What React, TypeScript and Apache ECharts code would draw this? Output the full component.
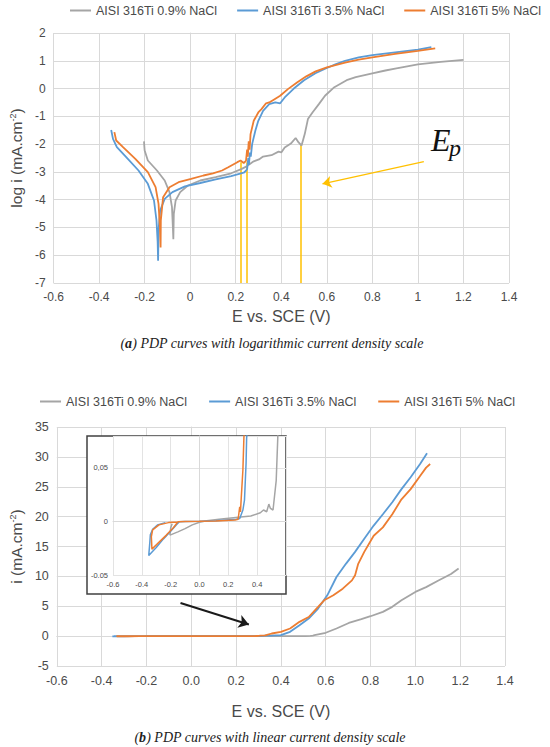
import React, { useEffect, useRef } from 'react';
import * as echarts from 'echarts';

const SERIES_NAMES = ['AISI 316Ti 0.9% NaCl', 'AISI 316Ti 3.5% NaCl', 'AISI 316Ti 5% NaCl'];
const COLORS = ['#A5A5A5', '#5B9BD5', '#ED7D31'];

// (a) log i vs E
const logGray = [
  [-0.203, -1.9], [-0.2, -2.23], [-0.186, -2.59], [-0.146, -2.95], [-0.112, -3.31], [-0.091, -3.73],
  [-0.08, -4.27], [-0.076, -5.0], [-0.074, -5.42], [-0.072, -4.51], [-0.064, -4.03], [-0.044, -3.73],
  [-0.01, -3.49], [0.044, -3.31], [0.112, -3.19], [0.18, -3.05], [0.224, -2.9], [0.248, -2.8],
  [0.279, -2.62], [0.302, -2.55], [0.32, -2.45], [0.357, -2.4], [0.388, -2.27], [0.4, -2.3],
  [0.415, -2.12], [0.442, -1.98], [0.463, -1.78], [0.476, -1.94], [0.489, -2.05], [0.503, -1.64],
  [0.517, -1.1], [0.537, -0.86], [0.565, -0.56], [0.592, -0.26], [0.633, 0.05], [0.687, 0.3],
  [0.727, 0.41], [0.8, 0.55], [0.857, 0.65], [0.9, 0.72], [1.0, 0.87], [1.1, 0.96], [1.2, 1.03],
];
const logBlue = [
  [-0.347, -1.49], [-0.339, -1.81], [-0.322, -2.11], [-0.281, -2.47], [-0.227, -2.95], [-0.186, -3.43],
  [-0.159, -4.03], [-0.148, -4.75], [-0.143, -5.5], [-0.141, -6.2], [-0.139, -5.1], [-0.132, -4.39],
  [-0.112, -3.97], [-0.078, -3.73], [-0.023, -3.52], [0.044, -3.4], [0.112, -3.27], [0.18, -3.15],
  [0.235, -3.03], [0.245, -2.96], [0.25, -2.9], [0.255, -2.5], [0.258, -2.75], [0.262, -2.3],
  [0.266, -2.45], [0.272, -2.0], [0.286, -1.52], [0.299, -1.16], [0.32, -0.8], [0.347, -0.56],
  [0.374, -0.5], [0.395, -0.53], [0.415, -0.32], [0.455, 0.0], [0.5, 0.3], [0.55, 0.55], [0.6, 0.74],
  [0.64, 0.88], [0.68, 1.0], [0.74, 1.12], [0.8, 1.2], [0.9, 1.3], [1.0, 1.4], [1.059, 1.49],
];
const logOrange = [
  [-0.333, -1.57], [-0.325, -1.87], [-0.295, -2.11], [-0.241, -2.53], [-0.186, -3.01], [-0.152, -3.55],
  [-0.139, -4.15], [-0.133, -5.0], [-0.13, -5.72], [-0.129, -4.75], [-0.119, -3.91], [-0.091, -3.55],
  [-0.051, -3.37], [0.004, -3.25], [0.058, -3.13], [0.1, -3.05], [0.14, -2.95], [0.167, -2.83],
  [0.207, -2.65], [0.221, -2.59], [0.235, -2.68], [0.245, -2.6], [0.25, -2.2], [0.253, -2.45],
  [0.257, -1.9], [0.261, -2.2], [0.265, -1.64], [0.279, -1.16], [0.299, -0.86], [0.313, -0.74],
  [0.333, -0.53], [0.347, -0.5], [0.367, -0.4], [0.395, -0.26], [0.429, -0.02], [0.469, 0.22],
  [0.51, 0.44], [0.551, 0.62], [0.6, 0.76], [0.68, 0.93], [0.74, 1.04], [0.8, 1.12], [0.9, 1.25],
  [1.0, 1.36], [1.076, 1.45],
];

// Ep markers on (a)
const epPotentials = [0.223, 0.25, 0.485];
const epTops = [-2.65, -2.65, -2.0];
const epArrow = [[1.026, -2.63], [0.581, -3.43]];

// (b) i vs E
const linGray = [
  [-0.19, -0.002], [-0.2, -0.006], [-0.205, -0.0125], [-0.15, -0.0095], [-0.1, -0.0065], [-0.05, -0.003],
  [0, -0.0005], [0.05, 0.0008], [0.136, 0.0022], [0.268, 0.004], [0.356, 0.0052], [0.422, 0.0083],
  [0.444, 0.0108], [0.466, 0.0092], [0.481, 0.0163], [0.492, 0.0123], [0.51, 0.0108], [0.532, 0.038],
  [0.543, 0.078], [0.55, 0.15], [0.6, 0.56], [0.648, 1.28], [0.703, 2.2], [0.759, 2.83], [0.8, 3.33],
  [0.855, 4.06], [0.897, 4.9], [0.938, 6.0], [1.0, 7.4], [1.048, 8.2], [1.103, 9.3], [1.159, 10.4],
  [1.193, 11.3],
];
const linBlue = [
  [-0.237, -0.0009], [-0.292, -0.0031], [-0.325, -0.0071], [-0.341, -0.0123], [-0.345, -0.02],
  [-0.352, -0.0314], [-0.3, -0.024], [-0.25, -0.016], [-0.2, -0.009], [-0.16, -0.003], [-0.14, 0],
  [-0.1, 0.0002], [0.0, 0.0003], [0.114, 0.0009], [0.257, 0.0022], [0.279, 0.003], [0.301, 0.0108],
  [0.312, 0.02], [0.323, 0.054], [0.327, 0.078], [0.35, 0.1], [0.4, 0.17], [0.441, 0.72], [0.483, 1.83],
  [0.524, 2.94], [0.566, 4.61], [0.607, 6.83], [0.648, 9.9], [0.69, 12.1], [0.731, 14.1], [0.772, 16.3],
  [0.814, 18.5], [0.855, 20.4], [0.897, 22.4], [0.938, 24.6], [0.979, 26.6], [1.021, 28.8], [1.052, 30.6],
];
const linOrange = [
  [-0.15, -0.0003], [-0.215, -0.0009], [-0.281, -0.003], [-0.325, -0.0077], [-0.334, -0.0138],
  [-0.33, -0.0255], [-0.28, -0.019], [-0.23, -0.0125], [-0.18, -0.0055], [-0.149, 0], [-0.1, 0.0002],
  [0, 0.0003], [0.114, 0.0006], [0.246, 0.0015], [0.268, 0.0022], [0.279, 0.0138], [0.284, 0.009],
  [0.29, 0.023], [0.301, 0.048], [0.308, 0.078], [0.33, 0.12], [0.359, 0.44], [0.4, 0.72], [0.441, 1.28],
  [0.483, 2.39], [0.524, 3.2], [0.566, 4.9], [0.593, 6.0], [0.634, 6.83], [0.676, 7.94], [0.717, 9.33],
  [0.731, 10.2], [0.745, 12.1], [0.772, 14.1], [0.814, 16.8], [0.855, 18.2], [0.897, 20.4], [0.938, 22.9],
  [0.979, 24.6], [1.021, 26.8], [1.048, 28.2], [1.066, 28.8],
];
const linArrow = [[-0.048, 5.55], [0.257, 1.95]];

const INSET_Y_LABELS: Record<string, string> = { '0.05': '0,05', '0': '0', '-0.05': '-0.05' };

const SANS = '"Liberation Sans", Arial, sans-serif';
const SERIF = '"Liberation Serif", "DejaVu Serif", serif';
const GRID_C = '#d9d9d9';
const LABEL_C = '#4a4a4a';

function buildOption() {
  const logSets = [logGray, logBlue, logOrange];
  const linSets = [linGray, linBlue, linOrange];

  const axisBase = {
    type: 'value',
    axisTick: { show: false },
    axisLine: { show: true, lineStyle: { color: GRID_C, width: 1 } },
    splitLine: { show: true, lineStyle: { color: GRID_C, width: 1 } },
  };

  const series: any[] = [];
  logSets.forEach((d, i) => {
    series.push({
      name: SERIES_NAMES[i], type: 'line', xAxisIndex: 0, yAxisIndex: 0, data: d,
      symbol: 'none', lineStyle: { color: COLORS[i], width: 1.8 }, itemStyle: { color: COLORS[i] }, z: 3,
    });
  });
  series.push({
    type: 'lines', coordinateSystem: 'cartesian2d', xAxisIndex: 0, yAxisIndex: 0, silent: true,
    symbol: 'none', lineStyle: { color: '#FFC000', width: 1.5, opacity: 1 }, z: 2,
    data: epPotentials.map((e, k) => ({ coords: [[e, -7], [e, epTops[k]]] })),
  });
  series.push({
    type: 'lines', coordinateSystem: 'cartesian2d', xAxisIndex: 0, yAxisIndex: 0, silent: true,
    symbol: ['none', 'arrow'], symbolSize: 9, lineStyle: { color: '#FFC000', width: 1.3, opacity: 1 }, z: 4,
    data: [{ coords: epArrow }],
  });
  linSets.forEach((d, i) => {
    series.push({
      name: SERIES_NAMES[i], type: 'line', xAxisIndex: 1, yAxisIndex: 1, data: d,
      symbol: 'none', lineStyle: { color: COLORS[i], width: 1.8 }, itemStyle: { color: COLORS[i] }, z: 3,
    });
  });
  series.push({
    type: 'lines', coordinateSystem: 'cartesian2d', xAxisIndex: 1, yAxisIndex: 1, silent: true,
    symbol: ['none', 'arrow'], symbolSize: 10, lineStyle: { color: '#1a1a1a', width: 2, opacity: 1 }, z: 4,
    data: [{ coords: linArrow }],
  });
  linSets.forEach((d, i) => {
    series.push({
      name: SERIES_NAMES[i], type: 'line', xAxisIndex: 2, yAxisIndex: 2, data: d, clip: true,
      symbol: 'none', lineStyle: { color: COLORS[i], width: 1.5 }, itemStyle: { color: COLORS[i] }, z: 7,
    });
  });

  const legendBase = {
    data: SERIES_NAMES, icon: 'rect', itemWidth: 21, itemHeight: 2, padding: 0,
    textStyle: { fontSize: 12.5, color: LABEL_C, fontFamily: SANS }, selectedMode: false,
  };

  const captionRich = {
    n: { fontSize: 14, fontStyle: 'italic', fontFamily: SERIF, fill: '#222' },
    b: { fontSize: 14, fontStyle: 'italic', fontWeight: 'bold', fontFamily: SERIF, fill: '#222' },
  };

  return {
    animation: false,
    textStyle: { fontFamily: SANS },
    legend: [
      { ...legendBase, left: 70, top: 4, itemGap: 20 },
      { ...legendBase, left: 40, top: 395, itemGap: 22 },
    ],
    grid: [
      { left: 46, top: 33, width: 463, height: 250 },
      { left: 46, top: 427, width: 459, height: 239 },
      { left: 113, top: 436, width: 173, height: 139.5, z: 5 },
    ],
    xAxis: [
      {
        ...axisBase, gridIndex: 0, min: -0.6, max: 1.4, interval: 0.2,
        axisLabel: { color: LABEL_C, fontSize: 12, margin: 8, formatter: (v: number) => String(parseFloat(v.toFixed(1))) },
        name: 'E vs. SCE (V)', nameLocation: 'middle', nameGap: 25,
        nameTextStyle: { fontSize: 16, color: LABEL_C },
      },
      {
        ...axisBase, gridIndex: 1, min: -0.6, max: 1.4, interval: 0.2,
        axisLabel: { color: LABEL_C, fontSize: 12.5, margin: 8, formatter: (v: number) => v.toFixed(1) },
        name: 'E vs. SCE (V)', nameLocation: 'middle', nameGap: 37,
        nameTextStyle: { fontSize: 16, color: LABEL_C },
      },
      {
        ...axisBase, gridIndex: 2, min: -0.6, max: 0.6, interval: 0.2, z: 5,
        splitLine: { show: true, lineStyle: { color: '#e3e3e3', width: 1 } },
        axisLabel: { color: LABEL_C, fontSize: 7.5, margin: 5, formatter: (v: number) => (v > 0.5 ? '' : v.toFixed(1)) },
      },
    ],
    yAxis: [
      {
        ...axisBase, gridIndex: 0, min: -7, max: 2, interval: 1,
        axisLabel: { color: LABEL_C, fontSize: 12, margin: 8 },
        name: 'log i (mA.cm{sup|-2})', nameLocation: 'middle', nameGap: 24,
        nameTextStyle: {
          fontSize: 15.5, color: LABEL_C,
          rich: { sup: { fontSize: 9, color: LABEL_C, verticalAlign: 'top' } },
        },
      },
      {
        ...axisBase, gridIndex: 1, min: -5, max: 35, interval: 5,
        axisLabel: { color: LABEL_C, fontSize: 12.5, margin: 8 },
        name: 'i (mA.cm{sup|-2})', nameLocation: 'middle', nameGap: 25,
        nameTextStyle: {
          fontSize: 15.5, color: LABEL_C,
          rich: { sup: { fontSize: 9, color: LABEL_C, verticalAlign: 'top' } },
        },
      },
      {
        ...axisBase, gridIndex: 2, min: -0.05, max: 0.0795, interval: 0.05, z: 5,
        splitLine: { show: true, lineStyle: { color: '#e3e3e3', width: 1 } },
        axisLabel: {
          color: LABEL_C, fontSize: 7.5, margin: 5,
          formatter: (v: number) => INSET_Y_LABELS[String(parseFloat(v.toFixed(2)))] ?? '',
        },
      },
    ],
    graphic: [
      {
        type: 'rect', z: 4, silent: true,
        shape: { x: 87, y: 436, width: 199, height: 158 },
        style: { fill: '#ffffff', stroke: '#404040', lineWidth: 1.5 },
      },
      {
        type: 'text', x: 431, y: 140, z: 10, silent: true,
        style: { text: 'E', fontSize: 32, fontStyle: 'italic', fontFamily: SERIF, fill: '#111', verticalAlign: 'middle' },
      },
      {
        type: 'text', x: 449, y: 148, z: 10, silent: true,
        style: { text: 'p', fontSize: 24, fontStyle: 'italic', fontFamily: SERIF, fill: '#111', verticalAlign: 'middle' },
      },
      {
        type: 'text', x: 272, y: 343, z: 10, silent: true,
        style: {
          text: '{n|(}{b|a}{n|) PDP curves with logarithmic current density scale}',
          align: 'center', verticalAlign: 'middle', rich: captionRich,
        },
      },
      {
        type: 'text', x: 270, y: 737, z: 10, silent: true,
        style: {
          text: '{n|(}{b|b}{n|) PDP curves with linear current density scale}',
          align: 'center', verticalAlign: 'middle', rich: captionRich,
        },
      },
    ],
    series,
  };
}

export default function App() {
  const ref = useRef<HTMLDivElement>(null);
  useEffect(() => {
    document.body.style.margin = '0';
    const chart = echarts.init(ref.current as HTMLDivElement, undefined, { renderer: 'svg' });
    chart.setOption(buildOption() as any);
    return () => chart.dispose();
  }, []);
  return <div ref={ref} style={{ width: 550, height: 747, background: '#fff' }} />;
}
